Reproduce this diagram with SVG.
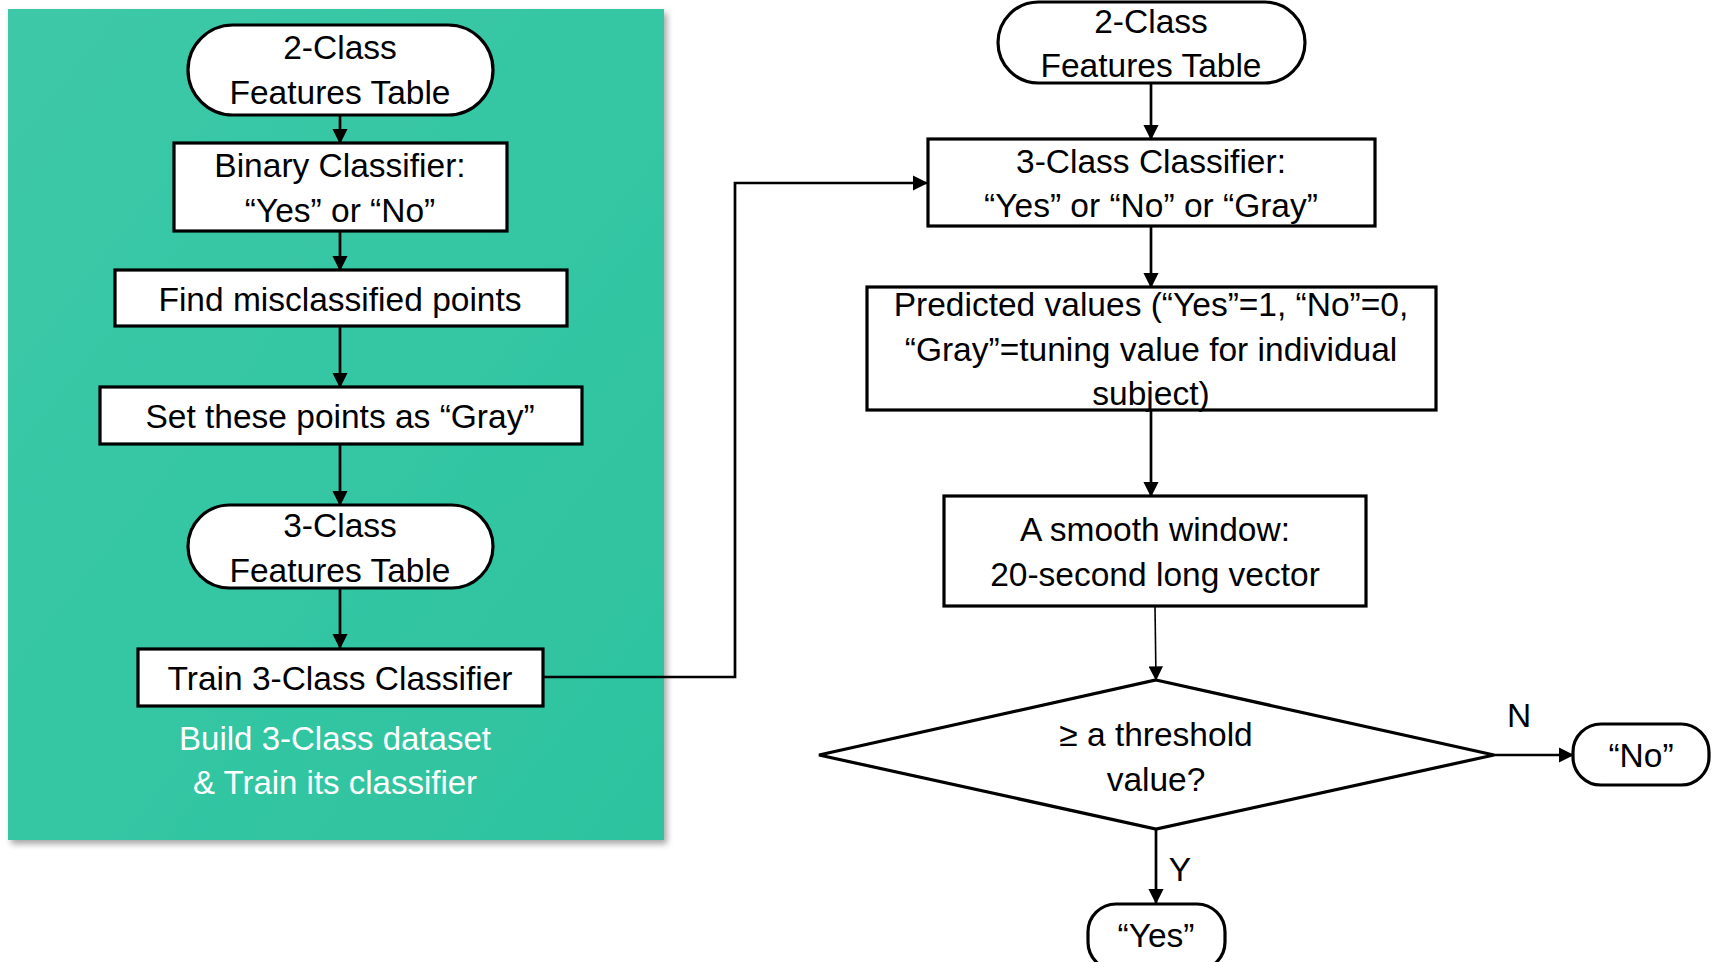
<svg xmlns="http://www.w3.org/2000/svg" width="1715" height="962" viewBox="0 0 1715 962">
<style>
.box{fill:#fff;stroke:#000;stroke-width:3.2}
.t{font-family:"Liberation Sans",Arial,sans-serif;font-size:33.5px;fill:#000;text-anchor:middle}
.cap{font-family:"Liberation Sans",Arial,sans-serif;font-size:33px;fill:#fff;text-anchor:middle}
.c{fill:none;stroke:#000;stroke-width:2.7}
.thin{fill:none;stroke:#000;stroke-width:1.6}
</style>
<defs>
<marker id="ah" markerWidth="5.6" markerHeight="5.6" refX="5.2" refY="2.8" orient="auto" markerUnits="strokeWidth"><path d="M0,0 L5.6,2.8 L0,5.6 Z" fill="#000"/></marker>
<marker id="ah2" markerWidth="9" markerHeight="9" refX="8.5" refY="4.5" orient="auto" markerUnits="strokeWidth"><path d="M0,0 L9,4.5 L0,9 Z" fill="#000"/></marker>
<linearGradient id="g" x1="0" y1="0" x2="1" y2="1"><stop offset="0" stop-color="#3DC9A8"/><stop offset="1" stop-color="#2DC39F"/></linearGradient>
<filter id="sh" x="-5%" y="-5%" width="110%" height="110%"><feDropShadow dx="3" dy="4" stdDeviation="3" flood-color="#000" flood-opacity="0.35"/></filter>
</defs>
<rect id="panel" x="8" y="9" width="656" height="831" fill="url(#g)" filter="url(#sh)"/>
<g id="connectors">
<line class="c" x1="340" y1="115" x2="340" y2="143" marker-end="url(#ah)"/>
<line class="c" x1="340" y1="231" x2="340" y2="270" marker-end="url(#ah)"/>
<line class="c" x1="340" y1="326" x2="340" y2="387" marker-end="url(#ah)"/>
<line class="c" x1="340" y1="444" x2="340" y2="505" marker-end="url(#ah)"/>
<line class="c" x1="340" y1="588" x2="340" y2="648" marker-end="url(#ah)"/>
<polyline class="c" points="543,677 735,677 735,183 927,183" marker-end="url(#ah)"/>
<line class="c" x1="1151" y1="83" x2="1151" y2="139" marker-end="url(#ah)"/>
<line class="c" x1="1151" y1="226" x2="1151" y2="287" marker-end="url(#ah)"/>
<line class="c" x1="1151" y1="410" x2="1151" y2="496" marker-end="url(#ah)"/>
<line class="thin" x1="1155" y1="606" x2="1156" y2="680" marker-end="url(#ah2)"/>
<line class="c" x1="1494" y1="755" x2="1573" y2="755" marker-end="url(#ah)"/>
<line class="c" x1="1156" y1="829" x2="1156" y2="903" marker-end="url(#ah)"/>
<text class="t" x="1519" y="727">N</text>
<text class="t" x="1180" y="881">Y</text>
</g>
<g id="l1"><rect class="box" x="188" y="25" width="305" height="90" rx="45"/><text class="t" x="340" y="59">2-Class</text><text class="t" x="340" y="104">Features Table</text></g>
<g id="l2"><rect class="box" x="174" y="143" width="333" height="88"/><text class="t" x="340" y="177">Binary Classifier:</text><text class="t" x="340" y="222">“Yes” or “No”</text></g>
<g id="l3"><rect class="box" x="115" y="270" width="452" height="56"/><text class="t" x="340" y="311">Find misclassified points</text></g>
<g id="l4"><rect class="box" x="100" y="387" width="482" height="57"/><text class="t" x="340" y="428">Set these points as “Gray”</text></g>
<g id="l5"><rect class="box" x="188" y="505" width="305" height="83" rx="41.5"/><text class="t" x="340" y="537">3-Class</text><text class="t" x="340" y="582">Features Table</text></g>
<g id="l6"><rect class="box" x="138" y="649" width="405" height="57"/><text class="t" x="340" y="690">Train 3-Class Classifier</text></g>
<g id="caption"><text class="cap" x="335" y="750">Build 3-Class dataset</text><text class="cap" x="335" y="794">&amp; Train its classifier</text></g>
<g id="r1"><rect class="box" x="998" y="2" width="307" height="81" rx="40.5"/><text class="t" x="1151" y="33">2-Class</text><text class="t" x="1151" y="77">Features Table</text></g>
<g id="r2"><rect class="box" x="928" y="139" width="447" height="87"/><text class="t" x="1151" y="173">3-Class Classifier:</text><text class="t" x="1151" y="217">“Yes” or “No” or “Gray”</text></g>
<g id="r3"><rect class="box" x="867" y="287" width="569" height="123"/><text class="t" x="1151" y="316">Predicted values (“Yes”=1, “No”=0,</text><text class="t" x="1151" y="361">“Gray”=tuning value for individual</text><text class="t" x="1151" y="405">subject)</text></g>
<g id="r4"><rect class="box" x="944" y="496" width="422" height="110"/><text class="t" x="1155" y="541">A smooth window:</text><text class="t" x="1155" y="586">20-second long vector</text></g>
<g id="dec"><polygon class="box" points="1156,680 1494,755 1156,829 819,755"/><text class="t" x="1156" y="746">≥ a threshold</text><text class="t" x="1156" y="791">value?</text></g>
<g id="no"><rect class="box" x="1573" y="724" width="136" height="61" rx="28"/><text class="t" x="1641" y="767">“No”</text></g>
<g id="yes"><rect class="box" x="1088" y="904" width="137" height="66" rx="28"/><text class="t" x="1156" y="947">“Yes”</text></g>
</svg>
